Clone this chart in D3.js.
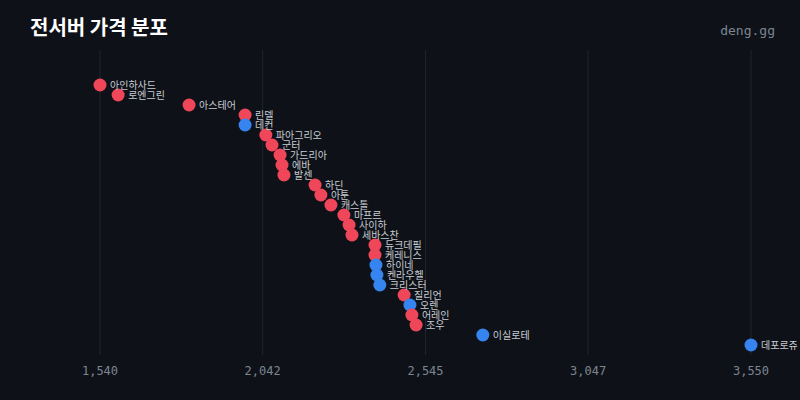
<!DOCTYPE html><html><head><meta charset="utf-8"><script src="https://cdn.jsdelivr.net/npm/d3@7"></script>
<style>body{margin:0;background:#0e1218}</style></head><body><svg id="c" width="800" height="400"></svg><script>
const names=["아인하사드","로엔그린","아스테어","린델","데컨","파아그리오","군터","가드리아","에바","발센","하딘","아툰","캐스톨","마프르","사이하","세바스찬","듀크데필","케레니스","하이네","켄라우헬","크리스터","질리언","오렌","어레인","조우","이실로테","데포로쥬"];
const prices=[1540,1596,1815,1988,1988,2052,2071,2096,2102,2108,2204,2222,2253,2293,2309,2318,2389,2389,2392,2395,2404,2479,2497,2503,2516,2722,3550];
const groups=["r","r","r","r","b","r","r","r","r","r","r","r","r","r","r","r","r","r","b","b","b","r","b","r","r","b","b"];
const tickVals=[1540,2042,2545,3047,3550];
const svg=d3.select("#c");
svg.append("rect").attr("width",800).attr("height",400).attr("fill","#0e1218");
const x=d3.scaleLinear().domain([1540,3550]).range([100,751]);
const y=d3.scalePoint().domain(names).range([85,345]);
svg.append("g").selectAll("line").data(tickVals).join("line").attr("x1",d=>x(d)).attr("x2",d=>x(d)).attr("y1",50).attr("y2",355).attr("stroke","#1e242e").attr("stroke-width",1);
svg.append("g").selectAll("text").data(tickVals).join("text").attr("x",d=>x(d)).attr("y",375).attr("text-anchor","middle").attr("fill","#7d8591").attr("font-family","DejaVu Sans Mono").attr("font-size",12).text(d=>d3.format(",")(d));
const data=names.map((n,i)=>({n,p:prices[i],g:groups[i]}));
svg.append("g").selectAll("circle").data(data).join("circle").attr("cx",d=>x(d.p)).attr("cy",d=>y(d.n)).attr("r",6.5).attr("fill",d=>d.g==="r"?"#f0465a":"#3584f0");
svg.append("g").selectAll("text").data(data).join("text").attr("x",d=>x(d.p)+10).attr("y",d=>y(d.n)+4).attr("fill","#c8ccd2").attr("font-family","Noto Sans CJK KR").attr("font-size",10).text(d=>d.n);
svg.append("text").attr("x",30).attr("y",35).attr("fill","#fff").attr("font-family","Noto Sans CJK KR").attr("font-weight","bold").attr("font-size",20).text("전서버 가격 분포");
svg.append("text").attr("x",775).attr("y",35).attr("text-anchor","end").attr("fill","#7d8591").attr("font-family","DejaVu Sans Mono").attr("font-size",13).text("deng.gg");
</script></body></html>
